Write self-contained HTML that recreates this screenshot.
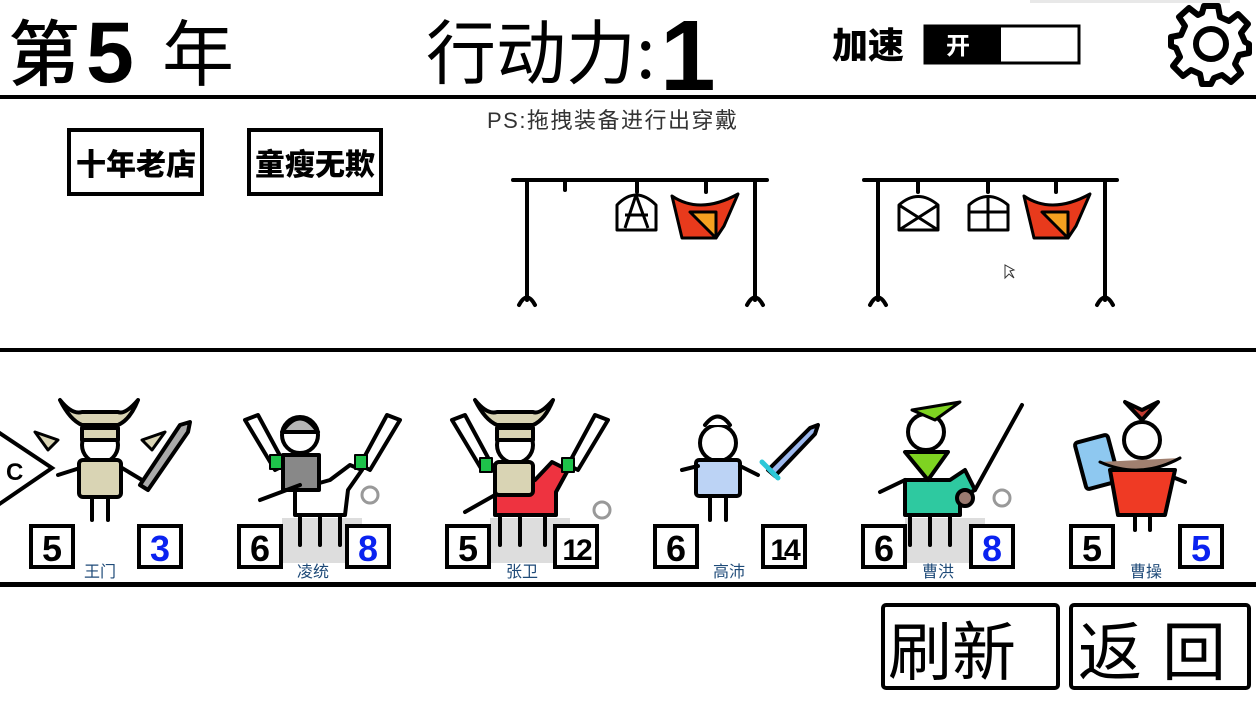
<!DOCTYPE html>
<html><head><meta charset="utf-8"><style>
html,body{margin:0;padding:0;background:#fff;width:1256px;height:706px;overflow:hidden}
svg{display:block}
text{font-family:"Liberation Sans","Noto Sans CJK SC",sans-serif}
.hand{font-family:"Noto Sans CJK SC","WenQuanYi Zen Hei",sans-serif}
</style></head><body>
<svg width="1256" height="706" viewBox="0 0 1256 706" xmlns="http://www.w3.org/2000/svg">
<!-- header -->
<text x="8" y="80" font-size="72" class="hand" font-weight="500">第</text>
<text x="86" y="82" font-size="86" font-weight="900" font-family="Liberation Sans">5</text>
<text x="162" y="80" font-size="72" class="hand">年</text>
<text x="426" y="78" font-size="70" class="hand">行动力:</text>
<text x="660" y="90" font-size="100" font-weight="900" font-family="Liberation Sans">1</text>
<text x="832" y="58" font-size="36" class="hand" font-weight="900">加速</text>
<rect x="925" y="26" width="154" height="37" fill="#fff" stroke="#000" stroke-width="3"/>
<rect x="925" y="26" width="76" height="37" fill="#000"/>
<text x="946" y="54" font-size="24" fill="#fff" class="hand" font-weight="bold">开</text>
<!-- gear -->
<g transform="translate(1211,44)" fill="none" stroke="#000" stroke-width="6" stroke-linejoin="round">
<path d="M-7,-38 L7,-38 L9,-27 L18,-23 L27,-30 L37,-20 L30,-11 L34,-2 L38,0 L38,9 L28,11 L24,20 L30,29 L20,38 L11,31 L3,34 L0,40 L-9,40 L-11,30 L-20,26 L-28,32 L-38,22 L-31,13 L-35,4 L-40,2 L-40,-7 L-30,-9 L-26,-18 L-32,-27 L-22,-36 L-13,-29 L-9,-31 Z"/>
<circle cx="0" cy="0" r="15"/>
</g>
<rect x="1030" y="0" width="200" height="3" fill="#e8e8e8"/>
<rect x="0" y="95" width="1256" height="4" fill="#000"/>
<!-- PS -->
<text x="487" y="128" font-size="22" fill="#333" letter-spacing="1.5">PS:拖拽装备进行出穿戴</text>
<!-- tags -->
<rect x="69" y="130" width="133" height="64" fill="none" stroke="#000" stroke-width="4"/>
<text x="76" y="175" font-size="30" class="hand" font-weight="900">十年老店</text>
<rect x="249" y="130" width="132" height="64" fill="none" stroke="#000" stroke-width="4"/>
<text x="255" y="175" font-size="30" class="hand" font-weight="900">童瘦无欺</text>
<!-- racks -->
<g fill="none" stroke="#000" stroke-width="4" stroke-linecap="round">
<path d="M513,180 L767,180 M527,180 L527,300 M755,180 L755,300 M519,305 Q527,290 535,305 M747,305 Q755,290 763,305 M565,180 L565,190 M637,180 L637,192 M706,180 L706,192"/>
<path d="M864,180 L1117,180 M878,180 L878,300 M1105,180 L1105,300 M870,305 Q878,290 886,305 M1097,305 Q1105,290 1113,305 M918,180 L918,192 M988,180 L988,192 M1056,180 L1056,192"/>
</g>
<g stroke="#000" stroke-width="3" fill="#fff" stroke-linejoin="round">
<path d="M617,230 L617,205 Q636,185 656,205 L656,230 Z"/>
<path d="M625,215 L648,215 M636,195 L625,228 M636,195 L648,228" fill="none"/>
<path d="M672,196 Q700,215 738,194 L724,226 L716,238 L682,238 Z" fill="#e83a1c"/>
<path d="M690,212 L716,212 L716,238 Z" fill="#f5a020"/>
<path d="M899,230 L899,205 Q918,188 938,205 L938,230 Z"/>
<path d="M899,205 L938,230 M938,205 L899,230" fill="none"/>
<path d="M969,230 L969,205 Q988,188 1008,205 L1008,230 Z"/>
<path d="M969,212 L1008,212 M988,196 L988,230" fill="none"/>
<path d="M1024,196 Q1052,215 1090,194 L1076,226 L1068,238 L1034,238 Z" fill="#e83a1c"/>
<path d="M1042,212 L1068,212 L1068,238 Z" fill="#f5a020"/>
</g>
<path d="M1005,265 L1005,278 L1009,274 L1014,278 L1010,271 L1014,270 Z" fill="#fff" stroke="#333" stroke-width="1"/>
<rect x="0" y="348" width="1256" height="4" fill="#000"/>
<!-- shadows for mounted -->
<rect x="282" y="518" width="80" height="45" fill="#ddd"/>
<rect x="490" y="518" width="80" height="45" fill="#ddd"/>
<rect x="905" y="518" width="80" height="45" fill="#ddd"/>
<!-- C tag -->
<path d="M-2,432 L52,468 L-2,505" fill="#fff" stroke="#000" stroke-width="4"/>
<text x="6" y="480" font-size="24" font-weight="bold">C</text>
<g stroke="#000" stroke-width="4" stroke-linecap="round" stroke-linejoin="round">
<!-- 王门 -->
<g><path d="M60,400 Q70,420 82,425 L118,425 Q130,420 138,400 Q125,415 118,412 L82,412 Q72,415 60,400Z" fill="#d9d4b4"/>
<circle cx="100" cy="445" r="18" fill="#fff"/><rect x="82" y="428" width="36" height="12" fill="#d9d4b4"/>
<path d="M35,432 L58,440 L48,450 Z M165,432 L142,440 L152,450 Z" fill="#d9d4b4" stroke-width="3"/>
<path d="M58,475 L80,468 M142,480 L122,468 M92,495 L92,520 M108,495 L108,520" fill="none"/>
<rect x="79" y="460" width="42" height="37" rx="4" fill="#d9d4b4"/>
<path d="M140,485 L180,425 L190,422 L188,432 L148,490 Z" fill="#aaa"/></g>
<!-- 凌统 -->
<g><path d="M245,420 L275,470 L285,465 L258,415 Z M400,420 L370,470 L360,465 L387,415 Z" fill="#fff"/>
<path d="M330,480 L350,465 L362,470 L348,490 L345,515 L295,515 L295,490 Z" fill="#fff"/>
<circle cx="300" cy="435" r="18" fill="#fff"/><path d="M282,432 Q300,405 318,432Z" fill="#b5b5b5"/>
<rect x="283" y="455" width="36" height="35" fill="#888"/>
<rect x="270" y="455" width="12" height="14" fill="#1ec24a" stroke-width="2"/><rect x="355" y="455" width="12" height="14" fill="#1ec24a" stroke-width="2"/>
<path d="M260,500 L300,485 M300,515 L300,545 M320,515 L320,545 M340,515 L340,545" fill="none"/>
<circle cx="370" cy="495" r="8" fill="#fff" stroke="#999" stroke-width="3"/></g>
<!-- 张卫 -->
<g><path d="M475,400 Q485,420 497,425 L533,425 Q545,420 553,400 Q540,415 533,412 L497,412 Q487,415 475,400Z" fill="#d9d4b4"/>
<path d="M452,420 L482,470 L492,465 L465,415 Z M608,420 L578,470 L568,465 L595,415 Z" fill="#fff"/>
<circle cx="515" cy="445" r="18" fill="#fff"/><rect x="497" y="428" width="36" height="12" fill="#d9d4b4"/>
<path d="M535,480 L552,462 L568,470 L556,492 L556,515 L495,515 L495,490 Z" fill="#ee3340"/>
<rect x="495" y="462" width="38" height="33" rx="4" fill="#d9d4b4"/>
<rect x="480" y="458" width="12" height="14" fill="#1ec24a" stroke-width="2"/><rect x="562" y="458" width="12" height="14" fill="#1ec24a" stroke-width="2"/>
<path d="M465,512 L495,495 M500,515 L500,545 M520,515 L520,545 M545,515 L545,545" fill="none"/>
<circle cx="602" cy="510" r="8" fill="#fff" stroke="#999" stroke-width="3"/></g>
<!-- 高沛 -->
<g><circle cx="718" cy="443" r="18" fill="#fff"/><path d="M705,425 Q718,408 730,425" fill="#fff"/>
<rect x="696" y="460" width="44" height="36" rx="3" fill="#bcd3f5"/>
<path d="M682,470 L698,466 M758,475 L740,466 M710,496 L710,520 M726,496 L726,520" fill="none"/>
<path d="M768,470 L810,428 L818,425 L815,434 L775,476 Z" fill="#9cb8ee"/>
<path d="M762,462 L778,478" stroke="#2cc8d8" stroke-width="5"/></g>
<!-- 曹洪 -->
<g><circle cx="926" cy="432" r="18" fill="#fff"/><path d="M912,410 L960,402 L935,420 Z" fill="#7ed321" stroke-width="3"/>
<path d="M950,480 L965,470 L975,490 L960,498 L960,515 L905,515 L905,480 Z" fill="#2ec9a0"/>
<path d="M905,452 L948,452 L928,480 Z" fill="#7ed321"/>
<path d="M880,492 L905,480 M975,490 L1022,405 M910,515 L910,545 M930,515 L930,545 M950,515 L950,545" fill="none"/>
<circle cx="965" cy="498" r="8" fill="#9a7a70"/><circle cx="1002" cy="498" r="8" fill="#fff" stroke="#999" stroke-width="3"/></g>
<!-- 曹操 -->
<g><path d="M1125,402 L1142,420 L1158,402 L1142,410 Z" fill="#c03a30"/>
<circle cx="1142" cy="440" r="18" fill="#fff"/>
<rect x="1080" y="438" width="34" height="48" rx="3" transform="rotate(-15 1097 462)" fill="#8ec8f0"/>
<path d="M1110,470 L1175,470 L1165,515 L1118,515 Z" fill="#ef3a24"/>
<path d="M1100,462 Q1140,480 1180,458" fill="#a08070" stroke-width="3"/>
<path d="M1135,515 L1135,530 M1150,515 L1150,530 M1175,478 L1185,482" fill="none"/></g>
</g>
<!-- stat boxes -->
<g fill="#fff" stroke="#000" stroke-width="4">
<rect x="31" y="526" width="42" height="41"/><rect x="139" y="526" width="42" height="41"/>
<rect x="239" y="526" width="42" height="41"/><rect x="347" y="526" width="42" height="41"/>
<rect x="447" y="526" width="42" height="41"/><rect x="555" y="526" width="42" height="41"/>
<rect x="655" y="526" width="42" height="41"/><rect x="763" y="526" width="42" height="41"/>
<rect x="863" y="526" width="42" height="41"/><rect x="971" y="526" width="42" height="41"/>
<rect x="1071" y="526" width="42" height="41"/><rect x="1180" y="526" width="42" height="41"/>
</g>
<g font-size="36" font-family="Liberation Sans" text-anchor="middle" font-weight="bold">
<text x="52" y="561">5</text><text x="160" y="561" fill="#0a22f0" font-weight="900">3</text>
<text x="260" y="561">6</text><text x="368" y="561" fill="#0a22f0" font-weight="900">8</text>
<text x="468" y="561">5</text><text x="576" y="560" font-size="30" letter-spacing="-3">12</text>
<text x="676" y="561">6</text><text x="784" y="560" font-size="30" letter-spacing="-3">14</text>
<text x="884" y="561">6</text><text x="992" y="561" fill="#0a22f0" font-weight="900">8</text>
<text x="1092" y="561">5</text><text x="1201" y="561" fill="#0a22f0" font-weight="900">5</text>
</g>
<g font-size="16" fill="#1e4a78" text-anchor="middle">
<text x="100" y="577">王门</text><text x="313" y="577">凌统</text><text x="522" y="577">张卫</text>
<text x="729" y="577">高沛</text><text x="938" y="577">曹洪</text><text x="1146" y="577">曹操</text>
</g>
<rect x="0" y="582" width="1256" height="5" fill="#000"/>
<!-- bottom buttons -->
<rect x="883" y="605" width="175" height="83" rx="3" fill="#fff" stroke="#000" stroke-width="4"/>
<text x="888" y="675" font-size="64" class="hand">刷新</text>
<rect x="1071" y="605" width="178" height="83" rx="3" fill="#fff" stroke="#000" stroke-width="4"/>
<text x="1078" y="675" font-size="64" class="hand" letter-spacing="20">返回</text>
</svg>
</body></html>
